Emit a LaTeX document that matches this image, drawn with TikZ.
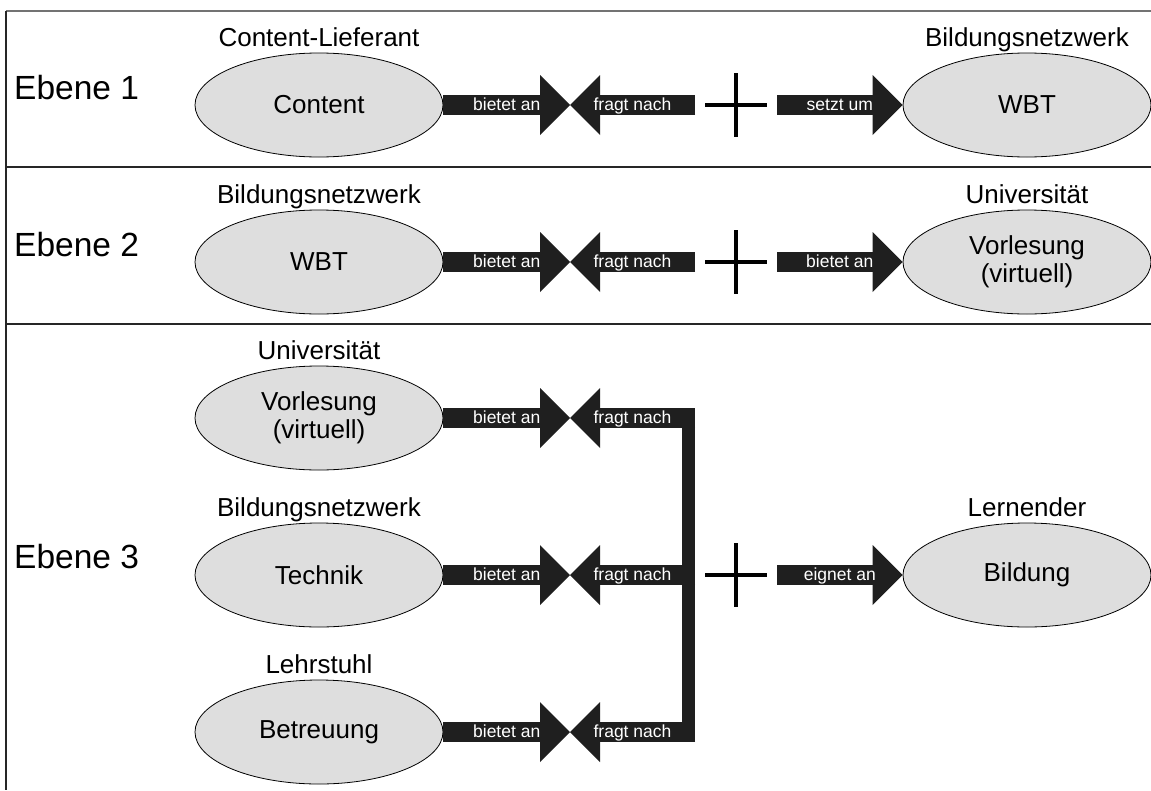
\documentclass[tikz,border=0pt]{standalone}
\usepackage{fontspec}
\setmainfont{Liberation Sans}
\usetikzlibrary{shapes.geometric,arrows.meta,positioning}

\definecolor{blasegrau}{gray}{0.87}
\definecolor{pfeilgrau}{gray}{0.12}

\tikzstyle{akteur} = [ellipse, draw=black, line width=0.8pt, fill=blasegrau, minimum width=248pt, minimum height=104pt, inner sep=0pt, align=center, font=\fontsize{26}{28}\selectfont]
\tikzstyle{rolle} = [inner sep=0pt, text depth=0pt, font=\fontsize{26}{28}\selectfont]
\tikzstyle{ebene} = [anchor=west, inner sep=0pt, font=\fontsize{33.5}{36}\selectfont]
\tikzstyle{fluss} = [draw=pfeilgrau, line width=20pt, -{Triangle[length=30pt, width=60pt, line width=0pt]}]
\tikzstyle{flusstext} = [midway, anchor=base, yshift=-5.5pt, text=white, inner sep=0pt, font=\fontsize{17.5}{18}\selectfont]
\tikzstyle{plus} = [line width=4pt]
\tikzstyle{rahmen} = [black!85, line width=1.5pt]

\begin{document}
\begin{tikzpicture}[x=1pt, y=-1pt]
    \useasboundingbox (0,0) rectangle (1151,790);

    % Rahmen
    \draw[rahmen, black!55] (6,11) -- (1151,11);
    \draw[rahmen] (6,11) -- (6,790);
    \draw[rahmen] (6,167) -- (1151,167);
    \draw[rahmen] (6,324) -- (1151,324);

    % Ebenen
    \node[ebene] (ebene1) at (14,88) {Ebene 1};
    \node[ebene] (ebene2) at (14,245) {Ebene 2};
    \node[ebene] (ebene3) at (14,557) {Ebene 3};

    % Ebene 1
    \node[akteur] (content) at (319,105) {Content};
    \node[rolle, above=6pt of content] (lieferant) {Content-Lieferant};
    \node[akteur] (wbt1) at (1027,105) {WBT};
    \node[rolle, above=6pt of wbt1] (netz1) {Bildungsnetzwerk};
    \coordinate (treff1) at (570,105);
    \coordinate (frage1) at (695,105);
    \coordinate (plus1) at (736,105);
    \coordinate (aus1) at (777,105);
    \draw[fluss] (content) -- (treff1) node[flusstext] {bietet an};
    \draw[fluss] (frage1) -- (treff1) node[flusstext] {fragt nach};
    \draw[fluss] (aus1) -- (wbt1) node[flusstext] {setzt um};

    % Ebene 2
    \node[akteur] (wbt2) at (319,262) {WBT};
    \node[rolle, above=6pt of wbt2] (netz2) {Bildungsnetzwerk};
    \node[akteur] (vorl2) at (1027,262) {Vorlesung\\(virtuell)};
    \node[rolle, above=6pt of vorl2] (uni2) {Universität};
    \coordinate (treff2) at (570,262);
    \coordinate (frage2) at (695,262);
    \coordinate (plus2) at (736,262);
    \coordinate (aus2) at (777,262);
    \draw[fluss] (wbt2) -- (treff2) node[flusstext] {bietet an};
    \draw[fluss] (frage2) -- (treff2) node[flusstext] {fragt nach};
    \draw[fluss] (aus2) -- (vorl2) node[flusstext] {bietet an};

    % Ebene 3
    \node[akteur] (vorl3) at (319,418) {Vorlesung\\(virtuell)};
    \node[rolle, above=6pt of vorl3] (uni3) {Universität};
    \node[akteur] (technik) at (319,575) {Technik};
    \node[rolle, above=6pt of technik] (netz3) {Bildungsnetzwerk};
    \node[akteur] (betreuung) at (319,732) {Betreuung};
    \node[rolle, above=6pt of betreuung] (lehrstuhl) {Lehrstuhl};
    \node[akteur] (bildung) at (1027,575) {Bildung};
    \node[rolle, above=6pt of bildung] (lernender) {Lernender};
    \coordinate (treff3a) at (570,418);
    \coordinate (frage3a) at (695,418);
    \coordinate (treff3b) at (570,575);
    \coordinate (frage3b) at (695,575);
    \coordinate (treff3c) at (570,732);
    \coordinate (frage3c) at (695,732);
    \coordinate (plus3) at (736,575);
    \coordinate (aus3) at (777,575);
    \coordinate (sammeloben) at (688.5,408);
    \coordinate (sammelunten) at (688.5,742);
    \draw[fluss] (vorl3) -- (treff3a) node[flusstext] {bietet an};
    \draw[fluss] (technik) -- (treff3b) node[flusstext] {bietet an};
    \draw[fluss] (betreuung) -- (treff3c) node[flusstext] {bietet an};
    \draw[pfeilgrau, line width=13pt] (sammeloben) -- (sammelunten);
    \foreach \r in {3a,3b,3c}
        \draw[fluss] (frage\r) -- (treff\r) node[flusstext] {fragt nach};
    \draw[fluss] (aus3) -- (bildung) node[flusstext] {eignet an};

    % Pluszeichen
    \foreach \p in {plus1,plus2,plus3}
        \draw[plus] (\p) ++(-31,0) -- ++(62,0) (\p) ++(0,-32) -- ++(0,64);

\end{tikzpicture}
\end{document}
